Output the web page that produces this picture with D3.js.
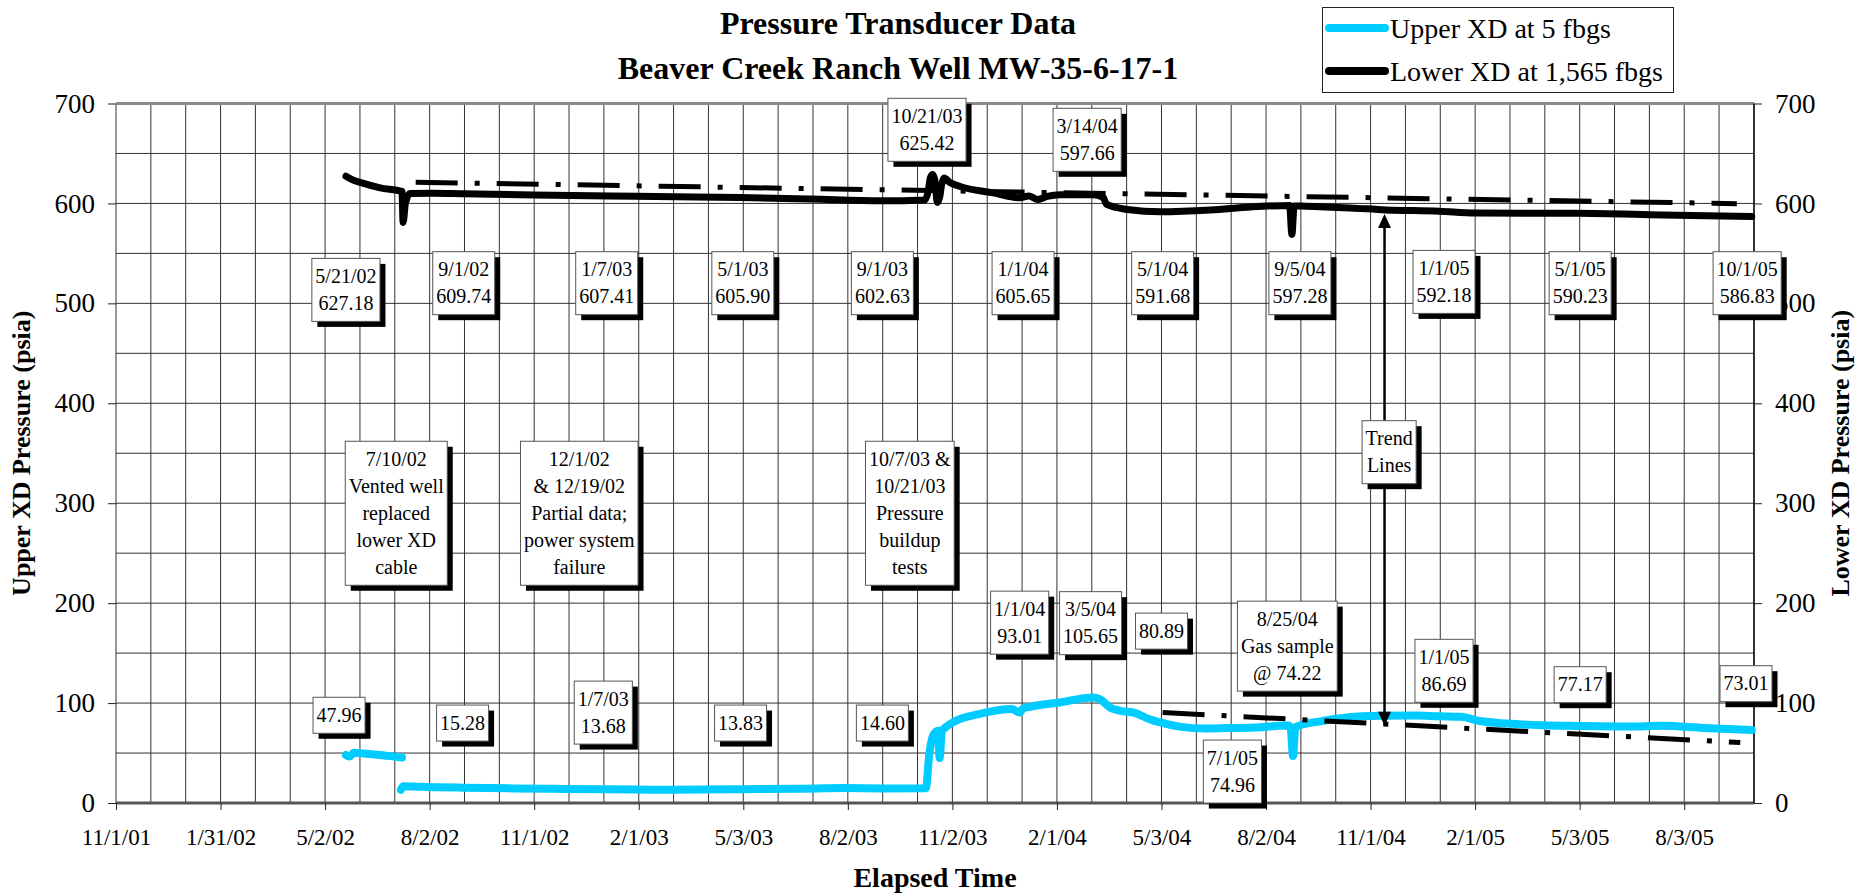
<!DOCTYPE html>
<html>
<head>
<meta charset="utf-8">
<script src="https://cdn.jsdelivr.net/npm/d3@7/dist/d3.min.js"></script>
<style>
  body { margin: 0; background: #fff; }
  svg { display: block; font-family: "Liberation Serif", "Times New Roman", serif; }
</style>
</head>
<body>
<svg id="chart" width="1858" height="894"></svg>
<script>
// Beaver Creek Ranch MW-35-6-17-1, transducer pressures

const titleLines = ["Pressure Transducer Data", "Beaver Creek Ranch Well MW-35-6-17-1"];
const seriesNames = ["Upper XD at 5 fbgs", "Lower XD at 1,565 fbgs"];
const axisTitles = { x: "Elapsed Time", left: "Upper XD Pressure (psia)", right: "Lower XD Pressure (psia)" };

const xStart = "11/1/01";
const xEnd = "10/3/05";
const majorDays = 91.4;
const xTickLabels = ["11/1/01", "1/31/02", "5/2/02", "8/2/02", "11/1/02", "2/1/03", "5/3/03", "8/2/03",
  "11/2/03", "2/1/04", "5/3/04", "8/2/04", "11/1/04", "2/1/05", "5/3/05", "8/3/05"];
const yTickValues = [0, 100, 200, 300, 400, 500, 600, 700];

// upper XD (psia); the null splits the record where the cable was replaced
const upperXD = [
  ["5/21/02", 47.96], ["5/24/02", 46.5], ["5/28/02", 50.3], ["6/8/02", 49.2], ["6/22/02", 47.8], ["7/9/02", 45.6],
  ["7/9/02", null],
  ["7/8/02", 13.2], ["7/10/02", 16.8], ["7/25/02", 16.2], ["9/1/02", 15.28], ["10/15/02", 14.6], ["11/20/02", 14.2],
  ["1/7/03", 13.68], ["3/1/03", 13.3], ["5/1/03", 13.83], ["6/20/03", 14.3], ["8/1/03", 14.9], ["9/1/03", 14.6],
  ["10/10/03", 14.8], ["10/13/03", 48.8], ["10/17/03", 68.9], ["10/21/03", 72.2], ["10/22/03", 44.8], ["10/24/03", 72],
  ["10/27/03", 75.5], ["11/5/03", 82.2], ["11/25/03", 88.9], ["12/24/03", 94], ["12/31/03", 90.6], ["1/3/04", 94.5],
  ["1/9/04", 96.3], ["2/4/04", 100.6], ["3/4/04", 105.65], ["3/10/04", 104], ["3/19/04", 95.6], ["3/28/04", 92.3],
  ["4/10/04", 90], ["4/22/04", 84], ["5/1/04", 80.89], ["5/20/04", 76.2], ["6/10/04", 74.5], ["7/1/04", 74.96],
  ["7/25/04", 75.5], ["8/22/04", 77.5], ["8/24/04", 74.22], ["8/26/04", 47], ["8/28/04", 76], ["9/20/04", 82],
  ["10/12/04", 85.6], ["11/10/04", 87.3], ["12/10/04", 87.5], ["1/1/05", 86.69], ["1/20/05", 86.2], ["2/5/05", 82],
  ["3/1/05", 79.5], ["4/1/05", 77.8], ["5/1/05", 77.17], ["6/15/05", 76.6], ["7/15/05", 77.2], ["8/20/05", 75],
  ["10/1/05", 73.01]
];

// lower XD (psia)
const lowerXD = [
  ["5/21/02", 627.18], ["5/26/02", 624], ["6/4/02", 620.5], ["6/20/02", 615.5], ["7/9/02", 612], ["7/10/02", 581],
  ["7/12/02", 600], ["7/16/02", 610], ["8/5/02", 610.3], ["9/1/02", 609.74], ["11/1/02", 608.5], ["1/7/03", 607.41],
  ["3/5/03", 606.6], ["5/1/03", 605.9], ["7/1/03", 604.4], ["9/1/03", 602.63], ["10/9/03", 603.5], ["10/12/03", 612],
  ["10/14/03", 626], ["10/16/03", 629], ["10/18/03", 622], ["10/20/03", 601], ["10/22/03", 606], ["10/24/03", 620],
  ["10/26/03", 625.42], ["10/31/03", 621], ["11/9/03", 617], ["12/8/03", 610.5], ["12/31/03", 605.65],
  ["1/8/04", 607.5], ["1/16/04", 604], ["1/24/04", 607], ["2/4/04", 608.8], ["3/4/04", 608.8], ["3/13/04", 606],
  ["3/16/04", 599], ["4/3/04", 594], ["5/2/04", 591.68], ["6/15/04", 593.5], ["7/20/04", 596.5], ["8/23/04", 598],
  ["8/25/04", 569], ["8/27/04", 597.5], ["9/5/04", 597.28], ["10/15/04", 595.5], ["11/15/04", 593.5],
  ["1/1/05", 592.18], ["2/1/05", 590.3], ["5/1/05", 590.23], ["7/15/05", 588.5], ["10/1/05", 586.83]
];

const lowerTrend = [["7/21/02", 621.2], ["9/18/05", 599.8]];
const upperTrend = [["5/4/04", 90.6], ["9/21/05", 60.5]];
const trendArrow = { date: "11/14/04", from: 589.5, to: 77.2 };

// call-out boxes: text lines, anchored at [date of box centre, psia of box top]
const lowerLabels = [
  { text: ["5/21/02", "627.18"], at: ["5/21/02", 545] },
  { text: ["9/1/02", "609.74"], at: ["9/1/02", 551.7] },
  { text: ["1/7/03", "607.41"], at: ["1/4/03", 551.7] },
  { text: ["5/1/03", "605.90"], at: ["5/3/03", 551.7] },
  { text: ["9/1/03", "602.63"], at: ["9/2/03", 551.7] },
  { text: ["1/1/04", "605.65"], at: ["1/3/04", 551.7] },
  { text: ["5/1/04", "591.68"], at: ["5/4/04", 551.7] },
  { text: ["9/5/04", "597.28"], at: ["9/1/04", 551.7] },
  { text: ["1/1/05", "592.18"], at: ["1/5/05", 553] },
  { text: ["5/1/05", "590.23"], at: ["5/4/05", 551.7] },
  { text: ["10/1/05", "586.83"], at: ["9/27/05", 551.7] },
  { text: ["10/21/03", "625.42"], at: ["10/11/03", 705.2] },
  { text: ["3/14/04", "597.66"], at: ["2/28/04", 695.2] }
];

const upperLabels = [
  { text: ["47.96"], at: ["5/15/02", 105.8] },
  { text: ["15.28"], at: ["8/31/02", 98] },
  { text: ["1/7/03", "13.68"], at: ["1/1/03", 122] },
  { text: ["13.83"], at: ["5/1/03", 98] },
  { text: ["14.60"], at: ["9/2/03", 98] },
  { text: ["1/1/04", "93.01"], at: ["12/31/03", 212] },
  { text: ["3/5/04", "105.65"], at: ["3/2/04", 211.5] },
  { text: ["80.89"], at: ["5/3/04", 190] },
  { text: ["8/25/04", "Gas sample", "@ 74.22"], at: ["8/21/04", 202] },
  { text: ["7/1/05", "74.96"], at: ["7/4/04", 63] },
  { text: ["1/1/05", "86.69"], at: ["1/5/05", 163.8] },
  { text: ["77.17"], at: ["5/4/05", 136.4] },
  { text: ["73.01"], at: ["9/26/05", 137.4] }
];

const eventNotes = [
  { text: ["7/10/02", "Vented well", "replaced", "lower XD", "cable"], at: ["7/4/02", 362] },
  { text: ["12/1/02", "& 12/19/02", "Partial data;", "power system", "failure"], at: ["12/11/02", 362] },
  { text: ["10/7/03 &", "10/21/03", "Pressure", "buildup", "tests"], at: ["9/26/03", 362] },
  { text: ["Trend", "Lines"], at: ["11/18/04", 382.6] }
];

const parse = d3.utcParse("%m/%d/%y");
const svg = d3.select("#chart");

const plot = { left: 116, right: 1754, top: 103.5, bottom: 803 };

const x = d3.scaleUtc()
  .domain([parse(xStart), parse(xEnd)])
  .range([plot.left, plot.right]);

const y = d3.scaleLinear()
  .domain([0, 700])
  .range([plot.bottom, plot.top]);

const t0 = parse(xStart).getTime();
const dayMs = 864e5;
const majorTicks = xTickLabels.map((_, i) => new Date(t0 + i * majorDays * dayMs));
const minorTicks = d3.range(0, 48)
  .map(i => new Date(t0 + i * majorDays / 3 * dayMs))
  .filter(d => d <= x.domain()[1]);

// grid
const grid = svg.append("g").attr("class", "grid");
grid.selectAll("line.v")
  .data(minorTicks).join("line")
    .attr("class", "v")
    .attr("x1", d => x(d)).attr("x2", d => x(d))
    .attr("y1", plot.top).attr("y2", plot.bottom)
    .attr("stroke", "#333").attr("stroke-width", 1);
grid.selectAll("line.h")
  .data(d3.range(50, 700, 50)).join("line")
    .attr("class", "h")
    .attr("x1", plot.left).attr("x2", plot.right)
    .attr("y1", d => y(d)).attr("y2", d => y(d))
    .attr("stroke", "#333").attr("stroke-width", 1);

svg.append("line")
  .attr("x1", plot.left).attr("x2", plot.right)
  .attr("y1", plot.top).attr("y2", plot.top)
  .attr("stroke", "#8a8a8a").attr("stroke-width", 3);
svg.append("line")
  .attr("x1", plot.left).attr("x2", plot.right)
  .attr("y1", plot.bottom).attr("y2", plot.bottom)
  .attr("stroke", "#555").attr("stroke-width", 3);
svg.append("line")
  .attr("x1", plot.right).attr("x2", plot.right)
  .attr("y1", plot.top).attr("y2", plot.bottom)
  .attr("stroke", "#111").attr("stroke-width", 1.5);

// axes
const styleAxis = (g, size) => {
  g.select(".domain").remove();
  g.selectAll(".tick line").attr("stroke", "#222");
  g.selectAll(".tick text")
    .attr("fill", "#000")
    .style("font-family", "'Liberation Serif', 'Times New Roman', serif")
    .style("font-size", `${size}px`);
};

svg.append("g")
  .attr("transform", `translate(0, ${plot.bottom})`)
  .call(d3.axisBottom(x).tickValues(majorTicks).tickFormat((d, i) => xTickLabels[i]).tickSize(7).tickPadding(19))
  .call(g => styleAxis(g, 23));

svg.append("g")
  .attr("transform", `translate(${plot.left}, 0)`)
  .call(d3.axisLeft(y).tickValues(yTickValues).tickSize(8).tickPadding(13))
  .call(g => styleAxis(g, 27));

svg.append("g")
  .attr("transform", `translate(${plot.right}, 0)`)
  .call(d3.axisRight(y).tickValues(yTickValues).tickSize(8).tickPadding(13))
  .call(g => styleAxis(g, 27));

// titles
svg.selectAll("text.title")
  .data(titleLines).join("text")
    .attr("class", "title")
    .attr("x", 898).attr("y", (d, i) => 34 + i * 45)
    .attr("text-anchor", "middle")
    .attr("font-size", 32).attr("font-weight", "bold")
    .text(d => d);

svg.append("text")
  .attr("x", (plot.left + plot.right) / 2).attr("y", 887)
  .attr("text-anchor", "middle")
  .attr("font-size", 28).attr("font-weight", "bold")
  .text(axisTitles.x);

svg.append("text")
  .attr("transform", `translate(30, ${(plot.top + plot.bottom) / 2}) rotate(-90)`)
  .attr("text-anchor", "middle")
  .attr("font-size", 26).attr("font-weight", "bold")
  .text(axisTitles.left);

svg.append("text")
  .attr("transform", `translate(1849, ${(plot.top + plot.bottom) / 2}) rotate(-90)`)
  .attr("text-anchor", "middle")
  .attr("font-size", 26).attr("font-weight", "bold")
  .text(axisTitles.right);

// series
const toPoints = rows => rows.map(([d, v]) => [parse(d), v]);

const line = d3.line()
  .defined(d => d[1] != null)
  .x(d => x(d[0]))
  .y(d => y(d[1]))
  .curve(d3.curveMonotoneX);

svg.append("path")
  .datum(toPoints(upperXD))
  .attr("d", line)
  .attr("fill", "none")
  .attr("stroke", "#00CCFF")
  .attr("stroke-width", 8)
  .attr("stroke-linejoin", "round")
  .attr("stroke-linecap", "round");

svg.append("path")
  .datum(toPoints(lowerXD))
  .attr("d", line)
  .attr("fill", "none")
  .attr("stroke", "#000")
  .attr("stroke-width", 7)
  .attr("stroke-linejoin", "round")
  .attr("stroke-linecap", "round");

[lowerTrend, upperTrend].forEach(tr => {
  svg.append("path")
    .datum(toPoints(tr))
    .attr("d", d3.line().x(d => x(d[0])).y(d => y(d[1])))
    .attr("fill", "none")
    .attr("stroke", "#000")
    .attr("stroke-width", 5)
    .attr("stroke-dasharray", "42 17 5 17");
});

// double arrow for the trend lines
const ax = x(parse(trendArrow.date));
const ayTop = y(trendArrow.from);
const ayBot = y(trendArrow.to);
const head = 14, half = 6.5;
svg.append("line")
  .attr("x1", ax).attr("x2", ax)
  .attr("y1", ayTop + head - 2).attr("y2", ayBot - head + 2)
  .attr("stroke", "#000").attr("stroke-width", 2.5);
svg.append("path")
  .attr("d", `M${ax},${ayTop} L${ax - half},${ayTop + head} L${ax + half},${ayTop + head} Z
              M${ax},${ayBot} L${ax - half},${ayBot - head} L${ax + half},${ayBot - head} Z`)
  .attr("fill", "#000");

// call-out boxes
const lineH = 27;
const drawNote = n => {
  const cx = x(parse(n.at[0]));
  const top = y(n.at[1]);
  const g = svg.append("g").attr("class", "note");
  const shadow = g.append("rect").attr("fill", "#000");
  const box = g.append("rect").attr("fill", "#fff").attr("stroke", "#555").attr("stroke-width", 1);
  const txt = g.selectAll("text")
    .data(n.text).join("text")
      .attr("x", cx)
      .attr("y", (d, i) => top + 24.5 + i * lineH)
      .attr("text-anchor", "middle")
      .attr("font-size", 20)
      .text(d => d);
  const w = d3.max(txt.nodes(), t => t.getComputedTextLength()) + 7;
  const h = n.text.length * lineH + 9;
  box.attr("x", cx - w / 2).attr("y", top).attr("width", w).attr("height", h);
  shadow.attr("x", cx - w / 2 + 5.5).attr("y", top + 5.5).attr("width", w).attr("height", h);
};

[...lowerLabels, ...upperLabels, ...eventNotes].forEach(drawNote);

// legend
const legend = svg.append("g").attr("class", "legend");
legend.append("rect")
  .attr("x", 1322.5).attr("y", 7.5).attr("width", 351).attr("height", 85)
  .attr("fill", "#fff").attr("stroke", "#222").attr("stroke-width", 1);
const legendColors = ["#00CCFF", "#000"];
seriesNames.forEach((name, i) => {
  legend.append("line")
    .attr("x1", 1329).attr("x2", 1385)
    .attr("y1", 28 + i * 43).attr("y2", 28 + i * 43)
    .attr("stroke", legendColors[i]).attr("stroke-width", 8)
    .attr("stroke-linecap", "round");
  legend.append("text")
    .attr("x", 1390).attr("y", 38 + i * 43)
    .attr("font-size", 28)
    .text(name);
});
</script>
</body>
</html>
